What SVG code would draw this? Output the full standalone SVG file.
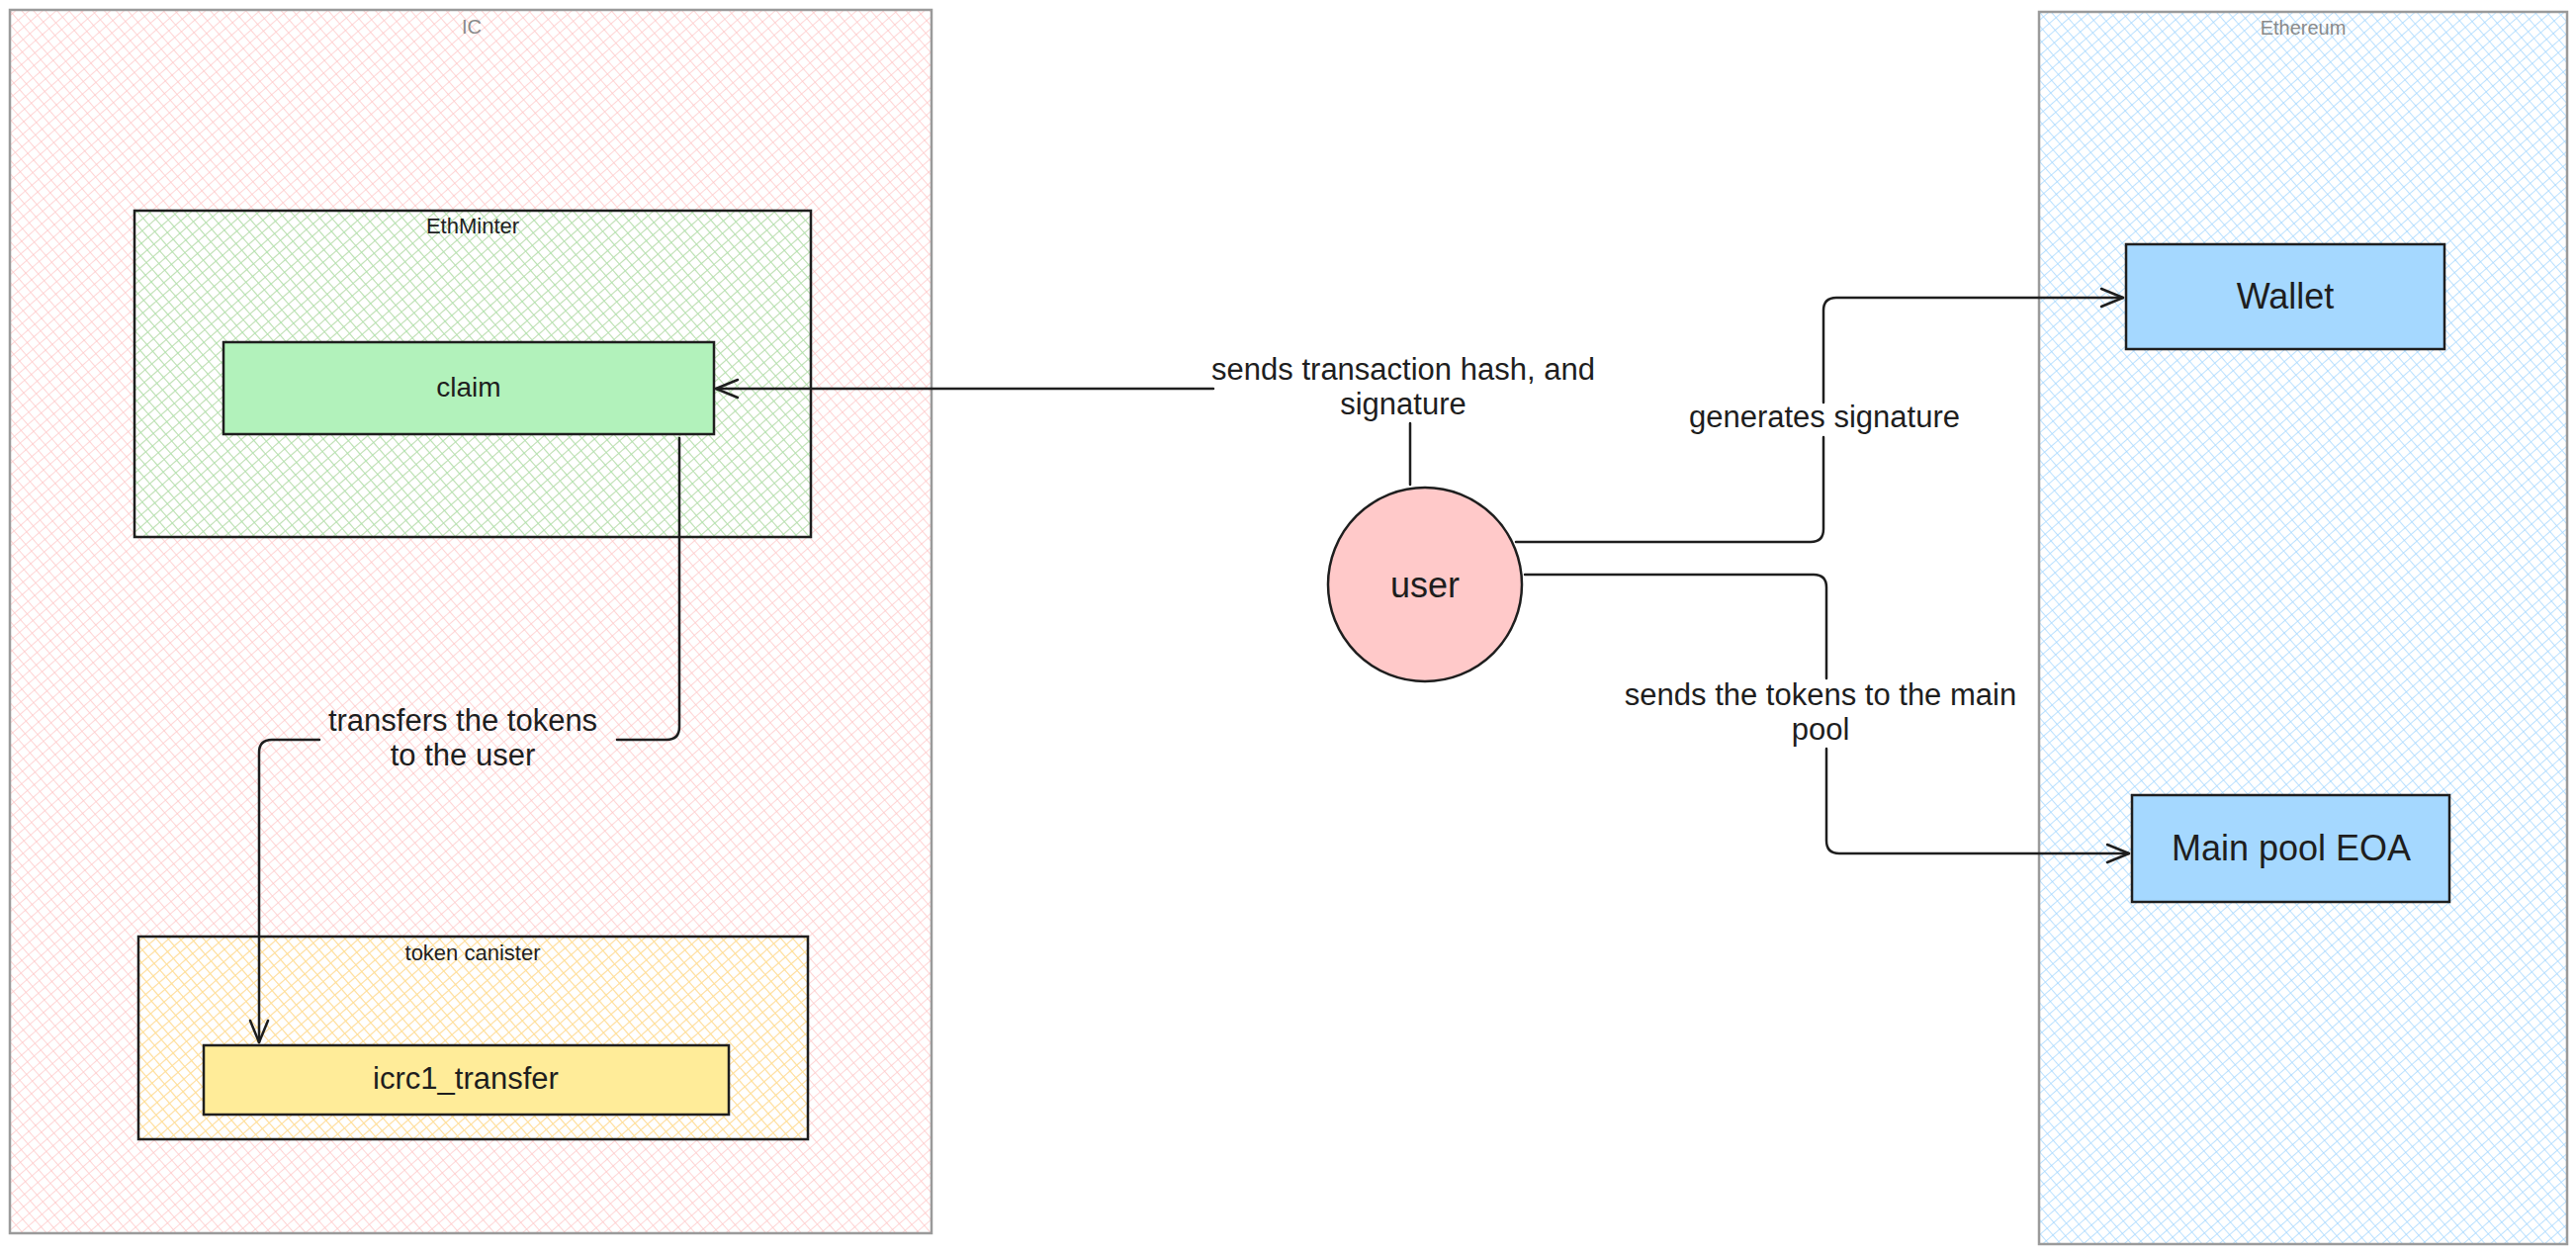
<svg xmlns="http://www.w3.org/2000/svg" width="2605" height="1267" viewBox="0 0 2605 1267">
<style>
  text { font-family: "Liberation Sans", Arial, sans-serif; fill: #1e1e1e; text-anchor: middle; }
  .frame-label { fill: #8a8a8a; font-size: 20px; }
  .group-label { font-size: 22px; }
  .node { stroke: #1e1e1e; stroke-width: 2.5; }
  .lbl { font-size: 31px; }
  .conn { fill: none; stroke: #1e1e1e; stroke-width: 2.5; stroke-linecap: round; stroke-linejoin: round; }
</style>
<defs>
  <pattern id="hatch-pink" width="9" height="9" patternUnits="userSpaceOnUse" patternTransform="rotate(-41)">
    <path d="M0 0 H9 M0 0 V9" stroke="#ffc9c9" stroke-width="1.6"/>
  </pattern>
  <pattern id="hatch-blue" width="9" height="9" patternUnits="userSpaceOnUse" patternTransform="rotate(-41)">
    <path d="M0 0 H9 M0 0 V9" stroke="#a5d8ff" stroke-width="1.5"/>
  </pattern>
  <pattern id="hatch-green" width="9" height="9" patternUnits="userSpaceOnUse" patternTransform="rotate(-41)">
    <path d="M0 0 H9 M0 0 V9" stroke="#a3ecad" stroke-width="1.6"/>
  </pattern>
  <pattern id="hatch-yellow" width="9" height="9" patternUnits="userSpaceOnUse" patternTransform="rotate(-41)">
    <path d="M0 0 H9 M0 0 V9" stroke="#ffe88a" stroke-width="1.6"/>
  </pattern>
  <marker id="arrow" viewBox="-26 -12 30 24" refX="0" refY="0" markerWidth="30" markerHeight="24" markerUnits="userSpaceOnUse" orient="auto">
    <path d="M-22 -9 L0 0 L-22 9" fill="none" stroke="#1e1e1e" stroke-width="2.5" stroke-linecap="round" stroke-linejoin="round"/>
  </marker>
</defs>
<rect width="2605" height="1267" fill="#ffffff"/>

<g id="frame-ic">
  <rect x="10" y="10" width="932" height="1237" fill="url(#hatch-pink)" stroke="#9a9a9a" stroke-width="2.5"/>
  <text class="frame-label" x="477" y="34">IC</text>
</g>
<g id="frame-ethereum">
  <rect x="2062" y="12" width="534" height="1246" fill="url(#hatch-blue)" stroke="#9a9a9a" stroke-width="2.5"/>
  <text class="frame-label" x="2329" y="35">Ethereum</text>
</g>

<g id="group-ethminter">
  <rect x="136" y="213" width="684" height="330" fill="url(#hatch-green)" stroke="#1e1e1e" stroke-width="2.5"/>
  <text class="group-label" x="478" y="236">EthMinter</text>
</g>
<g id="group-token-canister">
  <rect x="140" y="947" width="677" height="205" fill="url(#hatch-yellow)" stroke="#1e1e1e" stroke-width="2.5"/>
  <text class="group-label" x="478" y="971">token canister</text>
</g>

<g id="node-claim">
  <rect class="node" x="226" y="346" width="496" height="93" fill="#b2f2bb"/>
  <text x="474" y="401" font-size="28">claim</text>
</g>
<g id="node-icrc1-transfer">
  <rect class="node" x="206" y="1057" width="531" height="70" fill="#ffec99"/>
  <text x="471" y="1101" font-size="31">icrc1_transfer</text>
</g>
<g id="node-user">
  <circle class="node" cx="1441" cy="591" r="98" fill="#ffc9c9"/>
  <text x="1441" y="604" font-size="36">user</text>
</g>
<g id="node-wallet">
  <rect class="node" x="2150" y="247" width="322" height="106" fill="#a5d8ff"/>
  <text x="2311" y="312" font-size="36">Wallet</text>
</g>
<g id="node-main-pool">
  <rect class="node" x="2156" y="804" width="321" height="108" fill="#a5d8ff"/>
  <text x="2317" y="870" font-size="36">Main pool EOA</text>
</g>

<g id="connectors">
  <path class="conn" d="M1426 490 V428"/>
  <path class="conn" d="M1227 393 H724" marker-end="url(#arrow)"/>
  <text class="lbl" x="1419" y="384">sends transaction hash, and</text>
  <text class="lbl" x="1419" y="419">signature</text>

  <path class="conn" d="M687 443 V735 Q687 748 674 748 H624"/>
  <path class="conn" d="M323 748 H275 Q262 748 262 761 V1054" marker-end="url(#arrow)"/>
  <text class="lbl" x="468" y="739">transfers the tokens</text>
  <text class="lbl" x="468" y="774">to the user</text>

  <path class="conn" d="M1533 548 H1831 Q1844 548 1844 535 V442"/>
  <path class="conn" d="M1844 407 V314 Q1844 301 1857 301 H2147" marker-end="url(#arrow)"/>
  <text class="lbl" x="1845" y="432">generates signature</text>

  <path class="conn" d="M1542 581 H1834 Q1847 581 1847 594 V686"/>
  <path class="conn" d="M1847 757 V850 Q1847 863 1860 863 H2153" marker-end="url(#arrow)"/>
  <text class="lbl" x="1841" y="713">sends the tokens to the main</text>
  <text class="lbl" x="1841" y="748">pool</text>
</g>
</svg>
